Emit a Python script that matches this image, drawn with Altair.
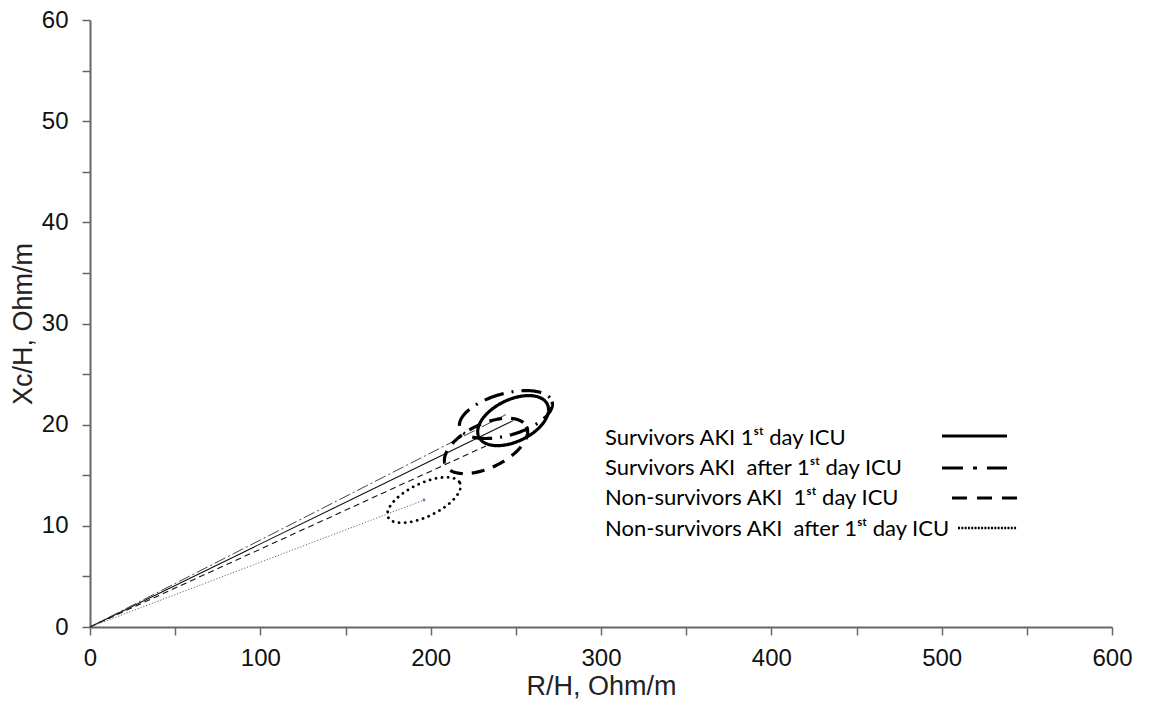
import numpy as np
import pandas as pd
import altair as alt

# ---- data ----
groups = [
    "Survivors AKI 1ˢᵗ day ICU",
    "Survivors AKI\u00a0 after 1ˢᵗ day ICU",
    "Non-survivors AKI\u00a0 1ˢᵗ day ICU",
    "Non-survivors AKI\u00a0 after 1ˢᵗ day ICU",
]
mean_r = [248.4, 244.2, 232.5, 196.1]      # R/H of mean vector
mean_xc = [20.4, 21.0, 17.9, 12.55]        # Xc/H of mean vector
major_dr = [20.1, 27.1, 23.8, 21.1]        # ellipse semi-major axis (R component)
major_dxc = [1.62, 1.28, 1.91, 1.68]       # ellipse semi-major axis (Xc component)
minor_dr = [5.3, 3.3, 5.55, 4.0]           # ellipse semi-minor axis (R component)
minor_dxc = [-1.87, -1.99, -1.96, -1.5]    # ellipse semi-minor axis (Xc component)

x_ticks = list(range(0, 601, 50))
y_ticks = list(range(0, 61, 5))

# ---- build tables ----
t = np.linspace(0, 2 * np.pi, 241)
ell_frames = []
vec_frames = []
for i, g in enumerate(groups):
    ell_frames.append(pd.DataFrame({
        "group": g,
        "i": np.arange(len(t)),
        "r": mean_r[i] + major_dr[i] * np.cos(t) + minor_dr[i] * np.sin(t),
        "xc": mean_xc[i] + major_dxc[i] * np.cos(t) + minor_dxc[i] * np.sin(t),
    }))
    vec_frames.append(pd.DataFrame({
        "group": g, "i": [0, 1], "r": [0.0, mean_r[i]], "xc": [0.0, mean_xc[i]],
    }))

W, H = 1022, 607
xs = alt.Scale(domain=[0, 600], nice=False, zero=True)
ys = alt.Scale(domain=[0, 60], nice=False, zero=True)

X = alt.X("r:Q", scale=xs, title="R/H, Ohm/m",
          axis=alt.Axis(values=x_ticks,
                        labelExpr="datum.value % 100 == 0 ? datum.label : ''",
                        labelFlush=False, labelPadding=11, titlePadding=3))
Y = alt.Y("xc:Q", scale=ys, title="Xc/H, Ohm/m",
          axis=alt.Axis(values=y_ticks,
                        labelExpr="datum.value % 10 == 0 ? datum.label : ''",
                        labelFlush=False, labelPadding=14, titlePadding=4))

ell_style = [
    dict(color="#000", strokeWidth=3.2),
    dict(color="#000", strokeWidth=3.2, strokeDash=[20, 8, 2, 8]),
    dict(color="#000", strokeWidth=3.2, strokeDash=[13, 9]),
    dict(color="#000", strokeWidth=2.8, strokeDash=[0.1, 6], strokeCap="round"),
]
vec_style = [
    dict(color="#111", strokeWidth=1.1),
    dict(color="#444", strokeWidth=1.0, strokeDash=[12, 3, 2, 3]),
    dict(color="#111", strokeWidth=1.1, strokeDash=[6, 4]),
    dict(color="#666", strokeWidth=1.0, strokeDash=[1.2, 1.8]),
]

layers = []
for i, g in enumerate(groups):
    layers.append(
        alt.Chart(vec_frames[i]).mark_line(**vec_style[i]).encode(x=X, y=Y, order="i:Q")
    )
for i, g in enumerate(groups):
    layers.append(
        alt.Chart(ell_frames[i]).mark_line(**ell_style[i]).encode(x=X, y=Y, order="i:Q")
    )

# small marker at the non-survivors (after 1st day) mean
layers.append(
    alt.Chart(vec_frames[3].iloc[[1]]).mark_point(filled=True, size=8, color="#7b6cc4", opacity=1)
    .encode(x=X, y=Y)
)

# ---- legend (text + line samples), positioned in pixels of the plot area ----
leg_text_y = [425, 455, 485, 516]
leg_text_x = 515
leg_lines = [
    dict(x1=852, x2=917, y=416, style=dict(color="#000", strokeWidth=3.2)),
    dict(x1=852, x2=917, y=448, style=dict(color="#000", strokeWidth=3.2, strokeDash=[21, 10, 4, 10])),
    dict(x1=862, x2=927, y=478, style=dict(color="#000", strokeWidth=3.2, strokeDash=[15, 10])),
    dict(x1=868, x2=927, y=508, style=dict(color="#000", strokeWidth=2.4, strokeDash=[2, 1.3])),
]
for i, g in enumerate(groups):
    layers.append(
        alt.Chart(vec_frames[i].iloc[[0]]).mark_text(
            text=g, align="left", baseline="alphabetic", font="Lato", fontSize=22, color="#000"
        ).encode(x=alt.value(leg_text_x), y=alt.value(leg_text_y[i]))
    )
    ll = leg_lines[i]
    layers.append(
        alt.Chart(vec_frames[i].iloc[[0]]).mark_rule(**ll["style"]).encode(
            x=alt.value(ll["x1"]), x2=alt.value(ll["x2"]), y=alt.value(ll["y"])
        )
    )

chart = alt.layer(*layers).properties(
    width=W, height=H,
    padding={"left": 90, "top": 20, "right": 41, "bottom": 79},
    autosize=alt.AutoSizeParams(type="none"),
).configure_view(stroke=None).configure_axis(
    grid=False,
    labelFont="Liberation Sans", titleFont="Liberation Sans",
    labelFontSize=24, titleFontSize=27,
    labelColor="#111", titleColor="#222",
    titleFontWeight="normal",
    domainColor="#666", domainWidth=2,
    tickColor="#666", tickWidth=1.5, tickSize=8,
)

chart.save("out.html", embed_options={"renderer": "svg", "actions": False})
